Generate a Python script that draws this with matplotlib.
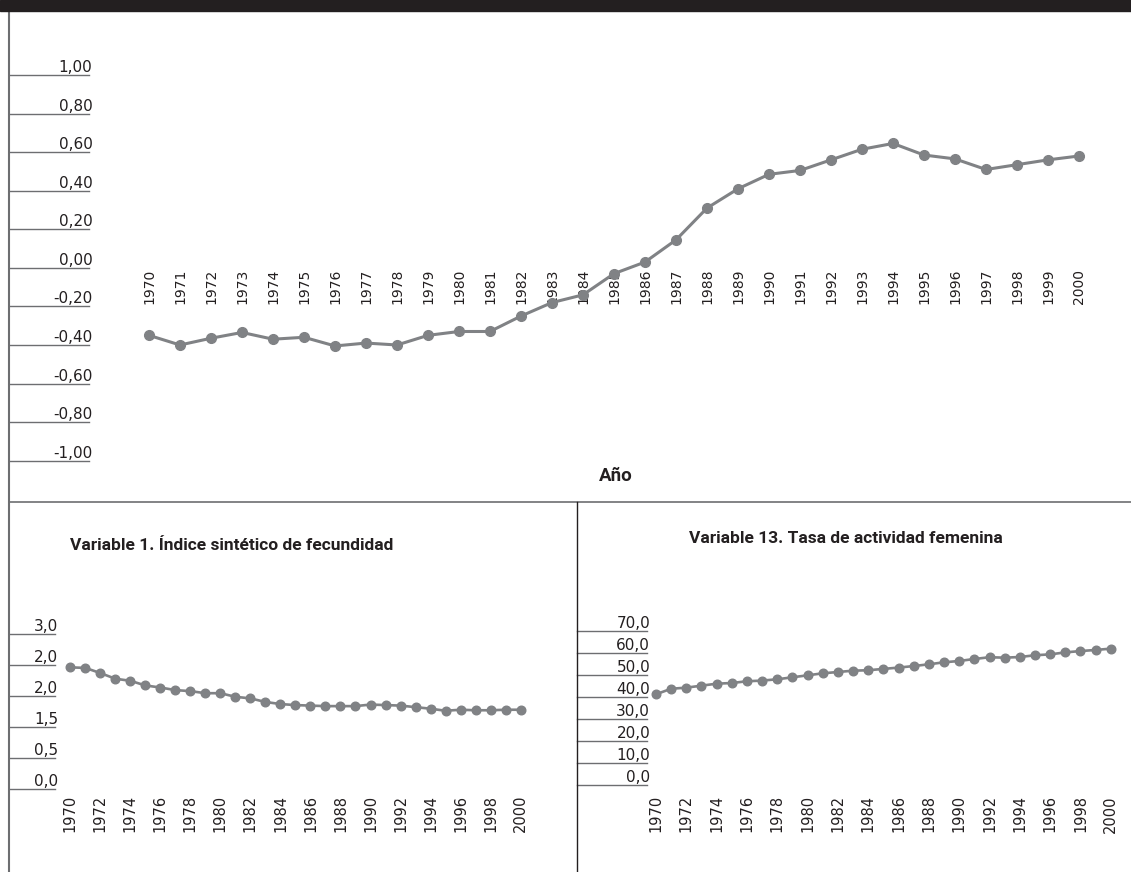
# python script to plot the factor score over time (top)
# and two of the input variables (bottom)

# import packages
import numpy as np
import matplotlib
matplotlib.use('Agg')
import matplotlib.pyplot as plt
from matplotlib.patches import Rectangle

# data
years = list(range(1970, 2001))

score = [-0.35, -0.40, -0.365, -0.335, -0.37, -0.36, -0.405, -0.39, -0.40, -0.35,
         -0.33, -0.33, -0.25, -0.18, -0.14, -0.03, 0.03, 0.145, 0.31, 0.41,
         0.485, 0.505, 0.56, 0.615, 0.645, 0.585, 0.565, 0.51, 0.535, 0.56, 0.58]

fecundidad = [2.36, 2.35, 2.25, 2.14, 2.10, 2.01, 1.97, 1.92, 1.90, 1.86,
              1.86, 1.79, 1.76, 1.69, 1.65, 1.63, 1.62, 1.61, 1.61, 1.61,
              1.64, 1.63, 1.62, 1.59, 1.56, 1.52, 1.54, 1.53, 1.53, 1.54, 1.54]

actividad = [41.3, 43.8, 44.3, 45.2, 46.1, 46.4, 47.2, 47.5, 48.1, 49.0,
             49.9, 50.8, 51.4, 52.0, 52.2, 52.8, 53.4, 54.1, 54.9, 55.8,
             56.4, 57.3, 58.1, 57.9, 58.2, 59.0, 59.4, 60.3, 60.9, 61.4, 62.0]

score_ticks = [1.0, 0.8, 0.6, 0.4, 0.2, 0.0, -0.2, -0.4, -0.6, -0.8, -1.0]
score_labels = ['1,00', '0,80', '0,60', '0,40', '0,20', '0,00',
                '-0,20', '-0,40', '-0,60', '-0,80', '-1,00']
fec_ticks = [3.0, 2.4, 1.8, 1.2, 0.6, 0.0]
fec_labels = ['3,0', '2,0', '2,0', '1,5', '0,5', '0,0']
act_ticks = [70, 60, 50, 40, 30, 20, 10, 0]
act_labels = ['70,0', '60,0', '50,0', '40,0', '30,0', '20,0', '10,0', '0,0']

title_fec = 'Variable 1. Índice sintético de fecundidad'
title_act = 'Variable 13. Tasa de actividad femenina'

# colours
grey = '#808285'
dark = '#231f20'
rule = '#6d6e71'

W, H = 1131, 872
plt.rcParams['font.family'] = ['DejaVu Sans']
fig = plt.figure(figsize=(W / 100, H / 100), dpi=100)
title_font = ['Roboto', 'DejaVu Sans']


def box(l, t, r, b):
    # pixel box -> figure fraction
    return [l / W, 1 - b / H, (r - l) / W, (b - t) / H]


def panel(l, t, r, b, x0, dx, ylo, yhi):
    # axes whose left edge is the end of the label rules;
    # x0 = pixel of 1970, dx = pixels per year
    ax = fig.add_axes(box(l, t, r, b))
    ax.set_xlim(1970 + (l - x0) / dx, 1970 + (r - x0) / dx)
    ax.set_ylim(ylo, yhi)
    for s in ['left', 'right', 'top']:
        ax.spines[s].set_visible(False)
    ax.spines['bottom'].set_position(('data', 0))
    ax.spines['bottom'].set_visible(False)
    ax.patch.set_alpha(0)
    return ax


def rules(ax, ticks, labels, xstart, l, r, size):
    # short underlines from the frame to the axis, labels sitting on them
    frac = (xstart - l) / (r - l)
    for v in ticks:
        ax.plot([frac, 0], [v, v], transform=ax.get_yaxis_transform(),
                color=rule, lw=1.0, clip_on=False)
    ax.set_yticks(ticks)
    ax.set_yticklabels(labels)
    ax.tick_params(axis='y', length=0, pad=-2.5, labelsize=size, labelcolor=dark)
    for t in ax.get_yticklabels():
        t.set_verticalalignment('bottom')


# ---- top panel: score ----
ax1 = panel(89, 75, 1131, 460.7, 149, 31.0, -1, 1)
rules(ax1, score_ticks, score_labels, 9, 89, 1131, 11)
ax1.set_xticks(years)
ax1.set_xticklabels([str(y) for y in years], rotation=90)
ax1.tick_params(axis='x', length=0, pad=0.5, labelsize=10, labelcolor=dark)
ax1.plot(years, score, color=grey, lw=2.2, marker='o', ms=7, zorder=3, clip_on=False)

fig.text(616 / W, 1 - 476 / H, 'Año', ha='center', va='center',
         fontsize=13.5, fontweight='bold', color=dark, family=title_font)

# ---- bottom left: fecundity ----
ax2 = panel(55, 634.3, 576, 789.3, 70.3, 15.01, 0, 3)
rules(ax2, fec_ticks, fec_labels, 9, 55, 576, 11)
ax2.set_xticks(years[::2])
ax2.set_xticklabels([str(y) for y in years[::2]], rotation=90)
ax2.tick_params(axis='x', length=0, pad=4, labelsize=10.5, labelcolor=dark)
ax2.plot(years, fecundidad, color=grey, lw=1.9, marker='o', ms=6.2, zorder=3, clip_on=False)
fig.text(70 / W, 1 - 546 / H, title_fec, ha='left', va='center',
         fontsize=12.5, fontweight='bold', color=dark, family=title_font)

# ---- bottom right: female activity rate ----
ax3 = panel(646.7, 631, 1131, 785.3, 656, 15.16, 0, 70)
rules(ax3, act_ticks, act_labels, 577, 646.7, 1131, 11)
ax3.set_xticks(years[::2])
ax3.set_xticklabels([str(y) for y in years[::2]], rotation=90)
ax3.tick_params(axis='x', length=0, pad=7, labelsize=10.5, labelcolor=dark)
ax3.plot(years, actividad, color=grey, lw=1.9, marker='o', ms=6.2, zorder=3, clip_on=False)
fig.text(846 / W, 1 - 538 / H, title_act, ha='center', va='center',
         fontsize=12.5, fontweight='bold', color=dark, family=title_font)

# ---- frame: dark bar, left border, separators ----
fig.patches.append(Rectangle((0, 1 - 11 / H), 1, 11 / H, transform=fig.transFigure,
                             color=dark, zorder=5))
fig.lines.append(plt.Line2D([9 / W, 9 / W], [0, 1 - 11 / H], transform=fig.transFigure,
                            color=rule, lw=1.5))
fig.lines.append(plt.Line2D([9 / W, 1], [1 - 502 / H, 1 - 502 / H], transform=fig.transFigure,
                            color=rule, lw=1.2))
fig.lines.append(plt.Line2D([577 / W, 577 / W], [0, 1 - 502 / H], transform=fig.transFigure,
                            color=dark, lw=1.0))

plt.savefig('out.png', dpi=100)
